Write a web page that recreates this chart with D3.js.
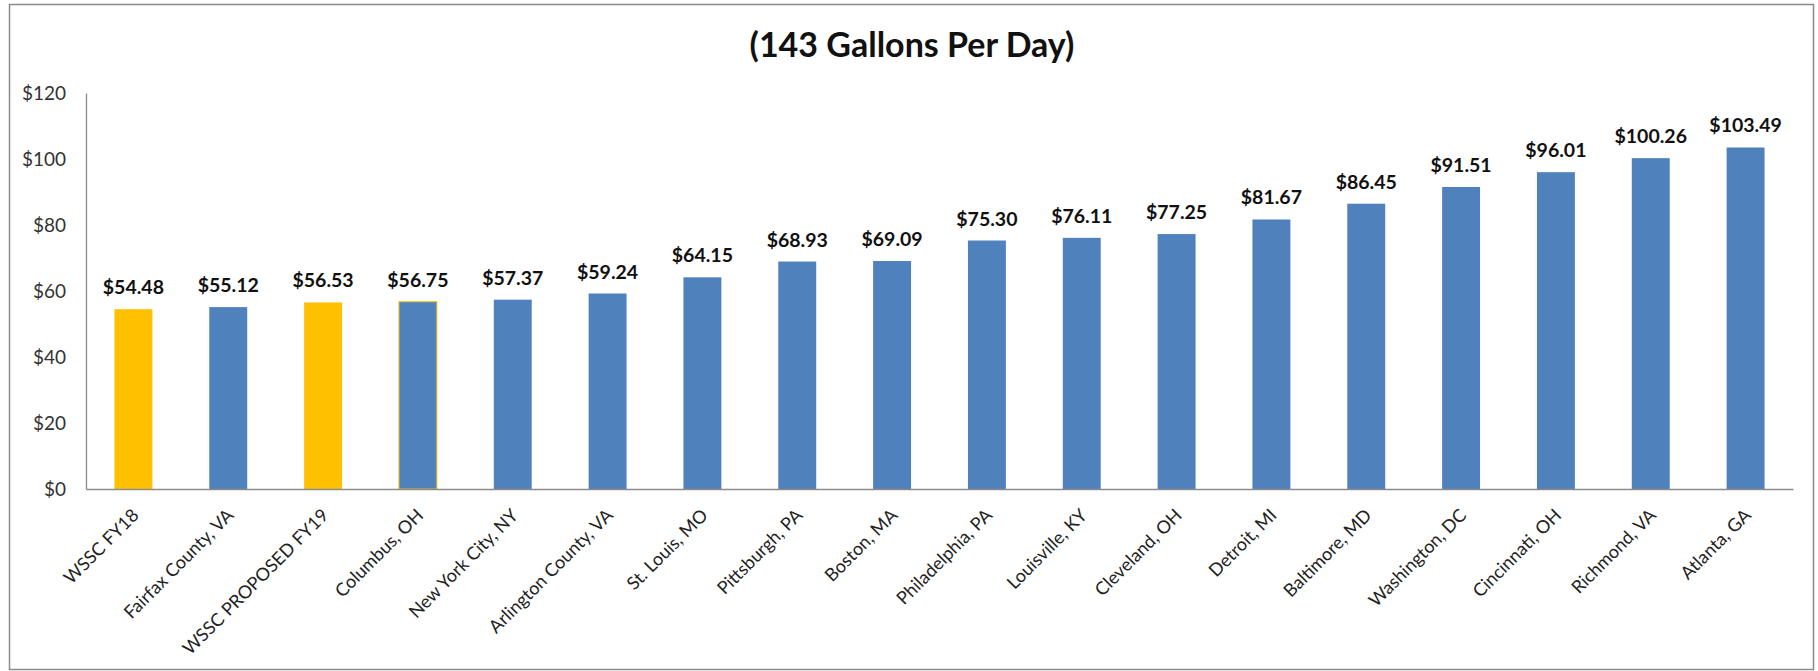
<!DOCTYPE html>
<html>
<head>
<meta charset="utf-8">
<script src="https://cdn.jsdelivr.net/npm/d3@7"></script>
<style>
  html, body { margin: 0; padding: 0; background: #fff; }
  svg { display: block; }
</style>
</head>
<body>
<script>
// data
const cities = [
  "WSSC FY18", "Fairfax County, VA", "WSSC PROPOSED FY19", "Columbus, OH",
  "New York City, NY", "Arlington County, VA", "St. Louis, MO", "Pittsburgh, PA",
  "Boston, MA", "Philadelphia, PA", "Louisville, KY", "Cleveland, OH",
  "Detroit, MI", "Baltimore, MD", "Washington, DC", "Cincinnati, OH",
  "Richmond, VA", "Atlanta, GA"
];
const bills = [
  54.48, 55.12, 56.53, 56.75, 57.37, 59.24, 64.15, 68.93, 69.09,
  75.30, 76.11, 77.25, 81.67, 86.45, 91.51, 96.01, 100.26, 103.49
];
const yTicks = [0, 20, 40, 60, 80, 100, 120];
const wsscEntries = ["WSSC FY18", "WSSC PROPOSED FY19"];
const outlinedEntries = ["Columbus, OH"];
const title = "(143 Gallons Per Day)";

const data = cities.map((c, i) => ({ city: c, bill: bills[i] }));

const width = 1818, height = 671;
const margin = { top: 93, left: 86, right: 25, bottom: 182 };
const font = "Lato, 'Open Sans', sans-serif";
const blue = "#4f81bd", gold = "#ffc000", axisGray = "#8c8c8c";

const svg = d3.select(document.body).append("svg")
  .attr("width", width)
  .attr("height", height)
  .style("font-family", font);

// outer frame
svg.append("rect")
  .attr("x", 9.5).attr("y", 4.5)
  .attr("width", 1804).attr("height", 665)
  .attr("fill", "#fff")
  .attr("stroke", "#8a8a8a")
  .attr("stroke-width", 1.5);

const x = d3.scaleBand()
  .domain(cities)
  .range([margin.left, width - margin.right])
  .paddingInner(0.6)
  .paddingOuter(0.3);

const y = d3.scaleLinear()
  .domain([0, 120])
  .range([height - margin.bottom, margin.top]);

// title
svg.append("text")
  .attr("x", 912)
  .attr("y", 57)
  .attr("text-anchor", "middle")
  .attr("font-size", 34)
  .attr("font-weight", "bold")
  .attr("fill", "#111")
  .text(title);

// bars
svg.append("g")
  .selectAll("rect")
  .data(data)
  .join("rect")
    .attr("x", d => x(d.city))
    .attr("y", d => y(d.bill))
    .attr("width", x.bandwidth())
    .attr("height", d => y(0) - y(d.bill))
    .attr("fill", d => wsscEntries.includes(d.city) ? gold : blue)
    .attr("stroke", d => outlinedEntries.includes(d.city) ? gold : "none")
    .attr("stroke-width", 1);

// value labels
svg.append("g")
  .selectAll("text")
  .data(data)
  .join("text")
    .attr("x", d => x(d.city) + x.bandwidth() / 2)
    .attr("y", d => y(d.bill) - 15)
    .attr("text-anchor", "middle")
    .attr("font-size", 19.5)
    .attr("font-weight", "bold")
    .attr("fill", "#111")
    .text(d => "$" + d3.format(".2f")(d.bill));

// y axis
const yAxis = svg.append("g")
  .attr("transform", `translate(${margin.left},0)`)
  .call(d3.axisLeft(y).tickValues(yTicks).tickSize(0).tickPadding(20).tickFormat(d => "$" + d));
yAxis.select(".domain").attr("stroke", axisGray).attr("stroke-width", 1.3);
yAxis.selectAll("text")
  .attr("font-family", font)
  .attr("font-size", 19)
  .attr("fill", "#333");

// x axis
const xAxis = svg.append("g")
  .attr("transform", `translate(0,${y(0)})`)
  .call(d3.axisBottom(x).tickSize(0).tickSizeOuter(0).tickFormat(""));
xAxis.select(".domain").attr("stroke", axisGray).attr("stroke-width", 1.3);

svg.append("g")
  .selectAll("text")
  .data(cities)
  .join("text")
    .attr("transform", d => `translate(${x(d) + x.bandwidth() / 2 + 2},${y(0) + 23}) rotate(-45)`)
    .attr("text-anchor", "end")
    .attr("dy", "0.35em")
    .attr("font-size", 18)
    .attr("fill", "#222")
    .text(d => d);
</script>
</body>
</html>
